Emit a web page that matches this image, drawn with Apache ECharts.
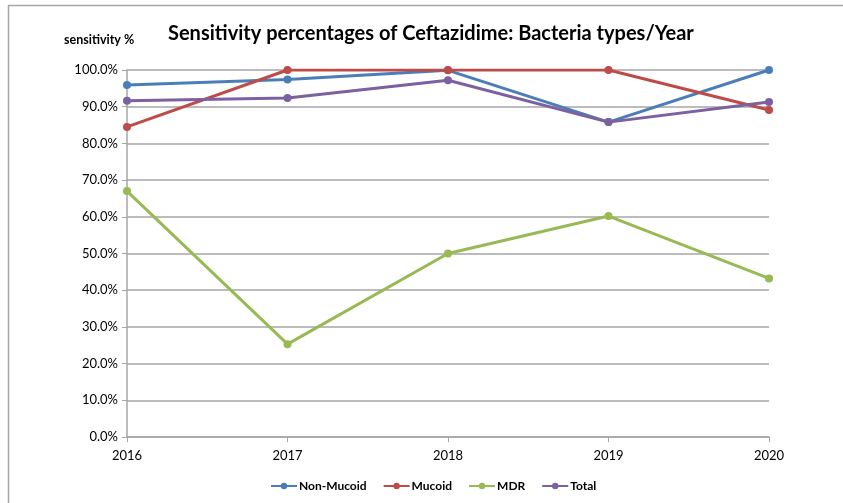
<!DOCTYPE html>
<html><head><meta charset="utf-8">
<script src="https://cdn.jsdelivr.net/npm/echarts@6/dist/echarts.min.js"></script>
<style>html,body{margin:0;padding:0;background:#fff}#c{width:843px;height:503px}</style>
</head><body><div id="c"></div>
<script>
const years = ['2016','2017','2018','2019','2020'];
const nonMucoid = [95.9, 97.4, 99.9, 85.8, 100];
const mucoid = [84.5, 100, 100, 100, 89.1];
const mdr = [67.0, 25.3, 50.0, 60.2, 43.2];
const total = [91.6, 92.4, 97.2, 85.8, 91.3];
const yTicks = [0,10,20,30,40,50,60,70,80,90,100];

const colors = ['#4A7EBB','#BE4B48','#98B954','#7D60A0'];
const mk = (name, data, color) => ({
  name, type:'line', data, color,
  symbol:'circle', symbolSize:8,
  lineStyle:{width:3, color},
  itemStyle:{color},
  animation:false
});
const chart = echarts.init(document.getElementById('c'), null, {renderer:'canvas'});
chart.setOption({
  animation:false,
  backgroundColor:'#fff',
  textStyle:{fontFamily:'Lato'},
  title:{
    text:'Sensitivity percentages of Ceftazidime: Bacteria types/Year',
    left:163, top:19,
    textStyle:{fontFamily:'Lato', fontWeight:'bold', fontSize:20, color:'#000'}
  },
  legend:{
    bottom:6, left:265, itemWidth:26, itemHeight:8, itemGap:16,
    textStyle:{fontFamily:'Lato', fontWeight:'bold', fontSize:12, color:'#000', padding:[0,0,0,-3]},
    data:['Non-Mucoid','Mucoid','MDR','Total']
  },
  grid:{left:127, right:74, top:70, bottom:66, containLabel:false},
  xAxis:{
    type:'category', data:years, boundaryGap:false,
    axisLine:{lineStyle:{color:'#A6A6A6', width:1.5}},
    axisTick:{show:true, lineStyle:{color:'#A6A6A6'}, length:5, alignWithLabel:true},
    axisLabel:{color:'#000', fontSize:13, margin:12, fontFamily:'Lato'},
    splitLine:{show:false}
  },
  yAxis:{
    type:'value', min:0, max:100, interval:10,
    axisLine:{show:true, lineStyle:{color:'#A6A6A6', width:1.5}},
    axisTick:{show:true, lineStyle:{color:'#A6A6A6'}, length:5},
    axisLabel:{color:'#000', fontSize:13, margin:9, fontFamily:'Lato',
      formatter:v => yTicks.includes(v) ? v.toFixed(1)+'%' : ''},
    splitLine:{show:true, lineStyle:{color:'#A6A6A6', width:1.5}},
    name:'sensitivity %', nameLocation:'end', nameGap:0,
    nameTextStyle:{fontFamily:'Lato', fontWeight:'bold', fontSize:12.5, color:'#000', align:'left', padding:[0,0,24,-63]}
  },
  graphic:[
    {type:'line', shape:{x1:8,y1:5.5,x2:843,y2:5.5}, style:{stroke:'#A6A6A6', lineWidth:1.5}, silent:true},
    {type:'line', shape:{x1:8.5,y1:5,x2:8.5,y2:503}, style:{stroke:'#A6A6A6', lineWidth:1.5}, silent:true}
  ],
  series:[
    mk('Non-Mucoid', nonMucoid, colors[0]),
    mk('Mucoid', mucoid, colors[1]),
    mk('MDR', mdr, colors[2]),
    mk('Total', total, colors[3])
  ]
});
</script></body></html>
